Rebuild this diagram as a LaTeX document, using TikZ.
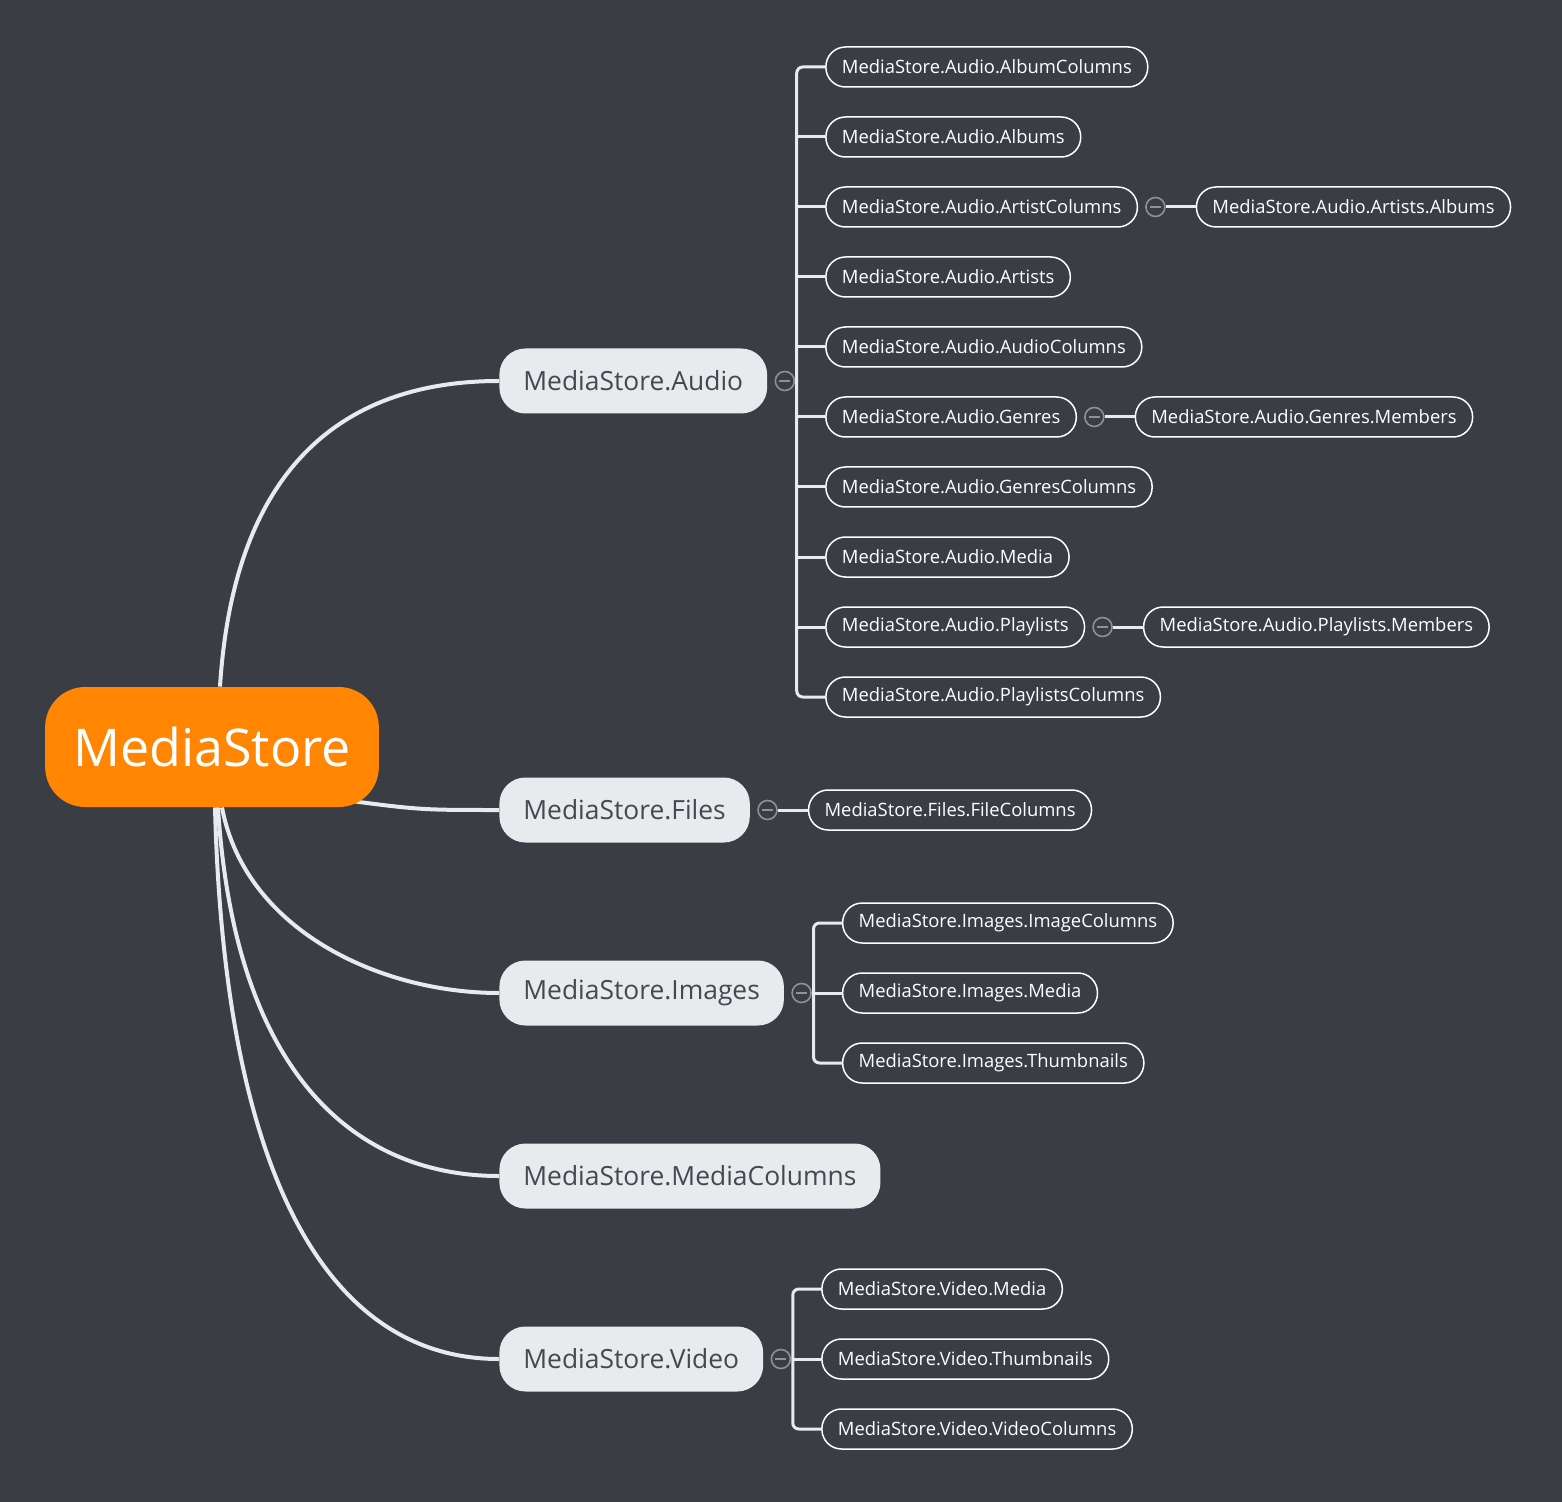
\documentclass[tikz,border=0pt]{standalone}
\usepackage{fontspec}
\setmainfont{Open Sans}
\usetikzlibrary{positioning}
\definecolor{bgc}{HTML}{3A3D43}
\definecolor{topicfill}{HTML}{E8EAED}
\definecolor{orng}{HTML}{FF8502}
\definecolor{knobc}{HTML}{8E9197}
\definecolor{ink}{HTML}{45484E}
\pgfdeclarelayer{bg}
\pgfdeclarelayer{links}
\pgfsetlayers{bg,links,main}
\tikzset{
  rootbox/.style={fill=orng, text=white, rounded corners=20pt, minimum height=60pt,
    inner xsep=14pt, font=\fontsize{26}{32}\selectfont},
  topic/.style={fill=topicfill, text=ink, rounded corners=13pt, minimum height=32.5pt,
    inner xsep=12pt, anchor=west, font=\fontsize{13.2}{16}\selectfont},
  leaf/.style={draw=white, line width=0.75pt, rounded corners=9.8pt, minimum height=20pt,
    inner xsep=8pt, anchor=west, text=white, font=\fontsize{9.2}{11}\selectfont},
  knob/.style={circle, draw=knobc, line width=0.8pt, minimum size=9.5pt, inner sep=0pt,
    path picture={\draw[knobc, line width=0.8pt]
      ([xshift=-2.8pt]path picture bounding box.center) -- ([xshift=2.8pt]path picture bounding box.center);}},
  link/.style={draw=topicfill, line width=2pt},
  branch/.style={draw=topicfill, line width=1.5pt, rounded corners=3pt},
}
\begin{document}
\begin{tikzpicture}[x=0.5pt, y=-0.5pt]
  \useasboundingbox (0,0) rectangle (1562,1502);
  \begin{pgfonlayer}{bg}
    \fill[bgc] (0,0) rectangle (1562,1502);
  \end{pgfonlayer}

  % root and main topics
  \node[rootbox] (root) at (212,747) {MediaStore};
  \node[topic] (audio) at (499,381) {MediaStore.Audio};
  \node[topic] (files) at (499,810) {MediaStore.Files};
  \node[topic] (images) at (499,993) {MediaStore.Images};
  \node[topic] (mcols) at (499,1176) {MediaStore.MediaColumns};
  \node[topic] (video) at (499,1359) {MediaStore.Video};

  % curved links from the root
  \begin{pgfonlayer}{links}
    \draw[link] ([xshift=4pt]root.north) .. controls (235,450) and (360,381) .. (audio.west);
    \draw[link] ([xshift=-20pt,yshift=4pt]root.south east) .. controls (420,810) .. (files.west);
    \draw[link] ([xshift=5pt]root.south) .. controls (245,930) and (380,993) .. (images.west);
    \draw[link] ([xshift=3pt]root.south) .. controls (235,1080) and (360,1176) .. (mcols.west);
    \draw[link] ([xshift=1.5pt]root.south) .. controls (225,1200) and (340,1359) .. (video.west);
  \end{pgfonlayer}

  % audio
  \node[knob, right=3.5pt of audio] (ka) {};
  \coordinate (ax) at ([xshift=15pt]ka.east);
  \coordinate (abar) at ([xshift=0.8pt]ka.east);
  \foreach \t/\y [count=\i] in {AlbumColumns/67, Albums/137, ArtistColumns/207, Artists/277,
      AudioColumns/347, Genres/417, GenresColumns/487, Media/557, Playlists/627, PlaylistsColumns/697}
  {
    \coordinate (ya\i) at (0,\y);
    \node[leaf] (a\i) at (ax |- ya\i) {MediaStore.Audio.\t};
  }
  \draw[branch] (a1.west) -| (abar) |- (a10.west);
  \foreach \i in {2,...,9}
    \draw[branch] (abar |- a\i.west) -- (a\i.west);

  % third level
  \node[knob, right=3.5pt of a3] (k3) {};
  \node[leaf, right=15pt of k3] (a3x) {MediaStore.Audio.Artists.Albums};
  \draw[branch] (k3.east) -- (a3x.west);
  \node[knob, right=3.5pt of a6] (k6) {};
  \node[leaf, right=15pt of k6] (a6x) {MediaStore.Audio.Genres.Members};
  \draw[branch] (k6.east) -- (a6x.west);
  \node[knob, right=3.5pt of a9] (k9) {};
  \node[leaf, right=15pt of k9] (a9x) {MediaStore.Audio.Playlists.Members};
  \draw[branch] (k9.east) -- (a9x.west);

  % files
  \node[knob, right=3.5pt of files] (kf) {};
  \node[leaf, right=15pt of kf] (f1) {MediaStore.Files.FileColumns};
  \draw[branch] (kf.east) -- (f1.west);

  % images
  \node[knob, right=3.5pt of images] (ki) {};
  \coordinate (ix) at ([xshift=15pt]ki.east);
  \coordinate (ibar) at ([xshift=0.8pt]ki.east);
  \foreach \t/\y [count=\i] in {ImageColumns/923, Media/993, Thumbnails/1063}
  {
    \coordinate (yi\i) at (0,\y);
    \node[leaf] (i\i) at (ix |- yi\i) {MediaStore.Images.\t};
  }
  \draw[branch] (i1.west) -| (ibar) |- (i3.west);
  \draw[branch] (ibar |- i2.west) -- (i2.west);

  % video
  \node[knob, right=3.5pt of video] (kv) {};
  \coordinate (vx) at ([xshift=15pt]kv.east);
  \coordinate (vbar) at ([xshift=0.8pt]kv.east);
  \foreach \t/\y [count=\i] in {Media/1289, Thumbnails/1359, VideoColumns/1429}
  {
    \coordinate (yv\i) at (0,\y);
    \node[leaf] (v\i) at (vx |- yv\i) {MediaStore.Video.\t};
  }
  \draw[branch] (v1.west) -| (vbar) |- (v3.west);
  \draw[branch] (vbar |- v2.west) -- (v2.west);
\end{tikzpicture}
\end{document}
